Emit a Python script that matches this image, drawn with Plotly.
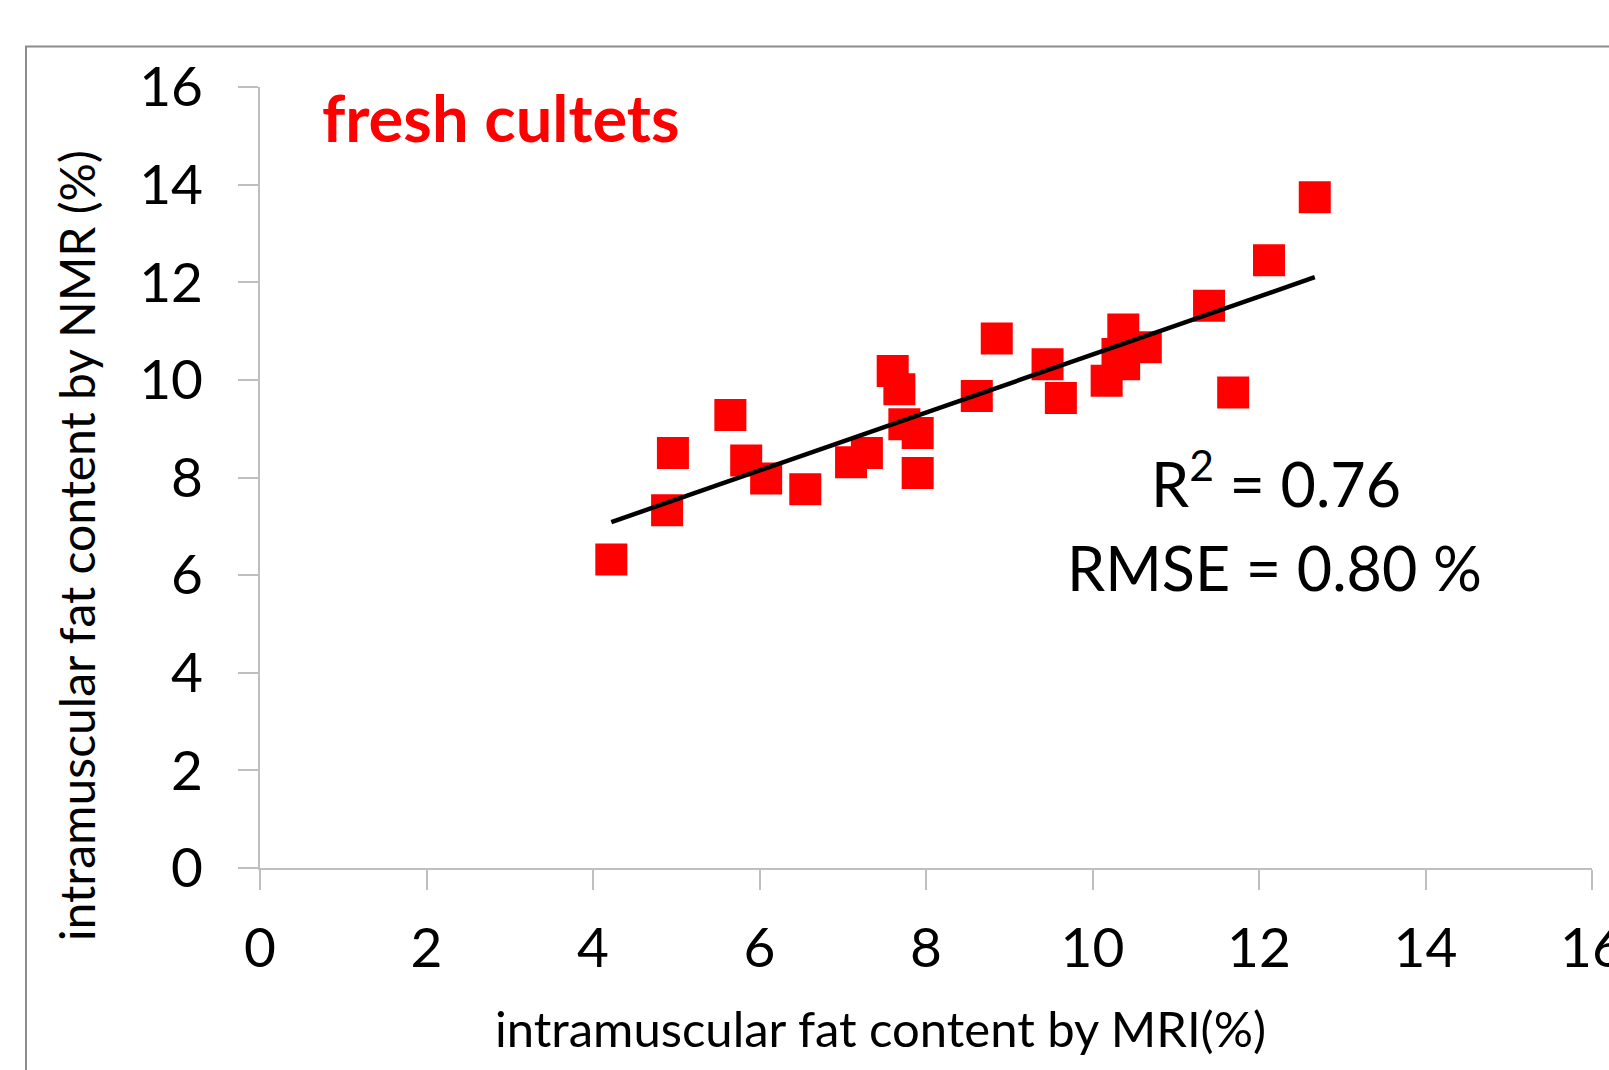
import numpy as np
import plotly.graph_objects as go

# Data
x_mri = [4.22, 4.89, 4.96, 5.65, 5.84, 6.08, 6.55, 7.10, 7.29, 7.60, 7.68, 7.74, 7.90, 7.90,
         8.61, 8.85, 9.46, 9.62, 10.17, 10.30, 10.37, 10.38, 10.64, 11.40, 11.69, 12.12, 12.67]
y_nmr = [6.32, 7.33, 8.50, 9.28, 8.35, 7.98, 7.76, 8.31, 8.50, 10.18, 9.81, 9.09, 8.91, 8.09,
         9.67, 10.85, 10.32, 9.63, 9.98, 10.53, 11.03, 10.32, 10.67, 11.52, 9.74, 12.45, 13.74]
tick_vals = [0, 2, 4, 6, 8, 10, 12, 14, 16]
label_title = "fresh cultets"
label_r2 = "R<sup>2</sup> = 0.76"
label_rmse = "RMSE = 0.80 %"
x_title = "intramuscular fat content by MRI(%)"
y_title = "intramuscular fat content by NMR (%)"

FONT = "Lato"

slope, intercept = np.polyfit(x_mri, y_nmr, 1)
fit_x = [min(x_mri), max(x_mri)]
fit_y = [slope * v + intercept for v in fit_x]

fig = go.Figure()
fig.add_trace(go.Scatter(
    x=x_mri, y=y_nmr, mode="markers",
    marker=dict(symbol="square", size=32, color="#FF0000", line=dict(width=0)),
    showlegend=False, cliponaxis=False,
))
fig.add_trace(go.Scatter(
    x=fit_x, y=fit_y, mode="lines",
    line=dict(color="black", width=4.5),
    showlegend=False, cliponaxis=False,
))

W, H = 1609, 1070
ml, mr, mt, mb = 260, 17, 87, 202
pw = W - ml - mr
ph = H - mt - mb

def px(xp):
    return (xp - ml) / pw

def py(yp):
    return (H - mb - yp) / ph

axis_common = dict(
    range=[0, 16], tickvals=tick_vals, showgrid=False, zeroline=False,
    showline=True, linecolor="#BFBFBF", linewidth=2,
    ticks="outside", ticklen=20, tickwidth=2, tickcolor="#BFBFBF",
    tickfont=dict(family=FONT, size=55, color="black"),
    ticklabeloverflow="allow", automargin=False,
    fixedrange=True,
)

fig.update_layout(
    template="none",
    width=W, height=H,
    margin=dict(l=ml, r=mr, t=mt, b=mb, pad=0, autoexpand=False),
    paper_bgcolor="white", plot_bgcolor="white",
    xaxis=dict(**axis_common, ticklabelstandoff=11),
    yaxis=dict(**axis_common, ticklabelstandoff=24),
    font=dict(family=FONT, color="black"),
    showlegend=False,
)

fig.add_shape(type="rect", xref="paper", yref="paper",
              x0=px(26), x1=px(1700), y0=py(1200), y1=py(46.5),
              line=dict(color="#8C8C8C", width=2), fillcolor="rgba(0,0,0,0)", layer="below")

fig.add_annotation(text=label_title, xref="paper", yref="paper",
                   x=px(320), y=py(117), xanchor="left", yanchor="middle", showarrow=False,
                   font=dict(family=FONT, size=65, color="#FF0000", weight="bold"))
fig.add_annotation(text=label_r2, xref="paper", yref="paper",
                   x=px(1276), y=py(479), xanchor="center", yanchor="middle", showarrow=False,
                   font=dict(family=FONT, size=61, color="black"))
fig.add_annotation(text=label_rmse, xref="paper", yref="paper",
                   x=px(1274), y=py(567), xanchor="center", yanchor="middle", showarrow=False,
                   font=dict(family=FONT, size=61, color="black"))
fig.add_annotation(text=x_title, xref="paper", yref="paper",
                   x=px(880), y=py(1028), xanchor="center", yanchor="middle", showarrow=False,
                   font=dict(family=FONT, size=49, color="black"))
fig.add_annotation(text=y_title, xref="paper", yref="paper",
                   x=px(76), y=py(546), xanchor="center", yanchor="middle", showarrow=False,
                   textangle=-90,
                   font=dict(family=FONT, size=48, color="black"))

fig.write_html("out.html", config={"displayModeBar": False},
               post_script="document.body.style.margin='0';document.body.style.overflow='hidden';")
